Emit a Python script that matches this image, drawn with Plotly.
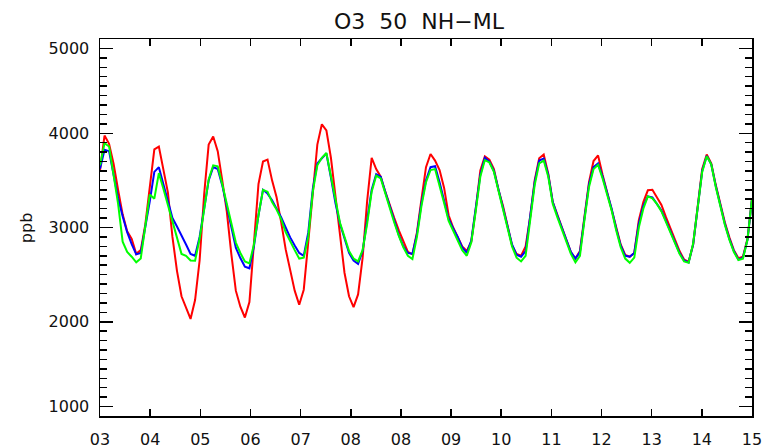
import plotly.graph_objects as go

# Monthly values, Jan 2003 .. Jan 2015 (145 points)
red = [
    3606, 3976, 3888, 3676, 3400, 3140, 2960, 2880, 2720, 2760, 3030, 3430,
    3830, 3859, 3620, 3370, 2900, 2540, 2270, 2140, 2030, 2230, 2650, 3350,
    3880, 3965, 3810, 3500, 3170, 2720, 2330, 2160, 2045, 2210, 2820, 3460,
    3700, 3720, 3500, 3320, 3060, 2770, 2550, 2330, 2180, 2340, 2846, 3390,
    3880, 4095, 4030, 3740, 3330, 2900, 2520, 2270, 2155, 2290, 2677, 3280,
    3740, 3620, 3540, 3380, 3230, 3100, 2970, 2850, 2740, 2715, 2947, 3300,
    3640, 3780, 3710, 3610, 3420, 3130, 3000, 2900, 2800, 2750, 2850, 3200,
    3605, 3755, 3720, 3620, 3400, 3230, 3010, 2810, 2720, 2700, 2800, 3110,
    3500, 3735, 3775, 3570, 3270, 3130, 3000, 2870, 2740, 2670, 2750, 3120,
    3480, 3705, 3765, 3560, 3380, 3210, 3000, 2820, 2710, 2690, 2730, 3077,
    3270, 3395, 3400, 3320, 3240, 3110, 2990, 2860, 2750, 2660, 2637, 2820,
    3220, 3620, 3775, 3680, 3450, 3244, 3055, 2895, 2760, 2675, 2690, 2880,
    3306,
]
blue = [
    3624, 3825, 3810, 3540, 3310, 3120, 2950, 2823, 2715, 2730, 2995, 3280,
    3590, 3640, 3458, 3270, 3100, 3010, 2920, 2820, 2720, 2700, 2900, 3180,
    3500, 3640, 3620, 3447, 3230, 3010, 2785, 2676, 2585, 2567, 2800, 3130,
    3400, 3360, 3290, 3200, 3110, 3000, 2895, 2810, 2730, 2700, 2948, 3410,
    3680, 3735, 3785, 3530, 3260, 3040, 2880, 2730, 2650, 2615, 2750, 3060,
    3400, 3565, 3540, 3380, 3220, 3060, 2920, 2800, 2730, 2720, 2930, 3260,
    3500, 3640, 3650, 3480, 3280, 3090, 2990, 2900, 2790, 2730, 2860, 3200,
    3560, 3740, 3700, 3600, 3400, 3220, 3010, 2820, 2710, 2690, 2750, 3120,
    3480, 3710, 3730, 3560, 3270, 3130, 3000, 2870, 2740, 2670, 2740, 3100,
    3460, 3640, 3680, 3540, 3370, 3200, 2990, 2810, 2700, 2690, 2730, 3040,
    3230, 3330, 3320, 3250, 3180, 3070, 2960, 2840, 2730, 2650, 2630, 2820,
    3200, 3600, 3760, 3670, 3440, 3230, 3040, 2880, 2750, 2660, 2680, 2870,
    3300,
]
green = [
    3659, 3894, 3860, 3573, 3250, 2850, 2740, 2690, 2630, 2672, 2995, 3350,
    3306, 3577, 3412, 3245, 3070, 2897, 2720, 2700, 2650, 2647, 2880, 3190,
    3510, 3660, 3650, 3460, 3250, 3040, 2840, 2730, 2640, 2620, 2820, 3130,
    3400, 3380, 3270, 3190, 3090, 2950, 2850, 2760, 2670, 2680, 2900, 3380,
    3660, 3740, 3790, 3540, 3270, 3050, 2900, 2750, 2670, 2640, 2760, 3040,
    3380, 3550, 3520, 3360, 3200, 3050, 2910, 2790, 2700, 2665, 2900, 3230,
    3480, 3610, 3620, 3450, 3260, 3070, 2960, 2870, 2760, 2700, 2840, 3180,
    3540, 3715, 3690, 3590, 3390, 3200, 2990, 2800, 2680, 2640, 2700, 3090,
    3450, 3680, 3710, 3540, 3250, 3110, 2980, 2850, 2720, 2630, 2700, 3080,
    3430, 3620, 3665, 3520, 3350, 3180, 2970, 2790, 2670, 2625, 2680, 3000,
    3200, 3330, 3310, 3250, 3170, 3060, 2950, 2830, 2720, 2640, 2625, 2830,
    3200, 3590, 3755, 3670, 3430, 3220, 3030, 2870, 2740, 2655, 2670, 2870,
    3306,
]

x_tick_labels = ["03", "04", "05", "06", "07", "08", "08", "09", "10", "11", "12", "13", "14", "15"]
y_tick_labels = ["1000", "2000", "3000", "4000", "5000"]
y_tick_positions = [1100, 2000, 3000, 4000, 4900]

start_year = 2003
t = [start_year + i / 12 for i in range(len(red))]
n_int = len(x_tick_labels) - 1
span = 12
x_tick_positions = [start_year + k * span / n_int for k in range(len(x_tick_labels))]

FONT = "DejaVu Sans"

fig = go.Figure()
for vals, color in [(red, "#ff0000"), (blue, "#0000ff"), (green, "#00ff00")]:
    fig.add_trace(go.Scatter(x=t, y=vals, mode="lines",
                             line=dict(color=color, width=2), showlegend=False,
                             hoverinfo="skip"))

axis_common = dict(showline=True, linecolor="black", linewidth=1.5, mirror="ticks",
                   showgrid=False, zeroline=False, ticks="inside", tickcolor="black",
                   tickwidth=1.5, automargin=False,
                   tickfont=dict(family=FONT, size=16, color="#111111"))

fig.update_layout(
    width=766, height=448,
    margin=dict(l=100, r=14, t=39, b=32, pad=0, autoexpand=False),
    plot_bgcolor="white", paper_bgcolor="white",
    title=dict(text="O3  50  NH\u2212ML", font=dict(family=FONT, size=22, color="#111111"),
               x=419 / 766, xref="container", xanchor="center",
               y=1 - 21 / 448, yref="container", yanchor="middle", automargin=False),
    xaxis=dict(range=[start_year, start_year + span], tickmode="array",
               tickvals=x_tick_positions, ticktext=x_tick_labels, ticklen=7,
               ticklabelstandoff=8, **axis_common),
    yaxis=dict(range=[1000, 5000], tickmode="array", tickvals=y_tick_positions,
               ticktext=y_tick_labels, ticklen=13, ticklabelstandoff=6,
               minor=dict(tickmode="linear", tick0=1000, dtick=100, ticklen=7,
                          ticks="inside", tickcolor="black", tickwidth=1.5, showgrid=False),
               **axis_common),
    annotations=[dict(text="ppb", textangle=-90, xref="paper", yref="paper",
                      x=(26 - 100) / 652, y=(415.7 - 228) / 376.7,
                      xanchor="center", yanchor="middle", showarrow=False,
                      font=dict(family=FONT, size=16, color="#111111"))],
)

fig.write_html("out.html",
               config={"displayModeBar": False, "staticPlot": True},
               post_script="document.body.style.margin='0';document.body.style.padding='0';"
                           "document.documentElement.style.overflow='hidden';")
